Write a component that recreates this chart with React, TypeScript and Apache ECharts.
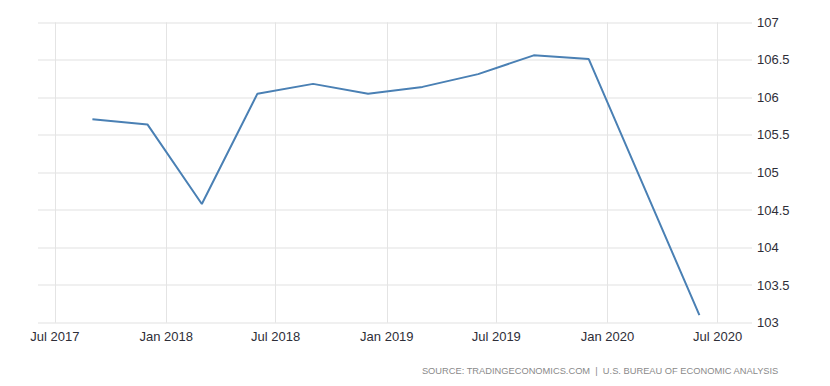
import React, { useEffect, useRef } from "react";
import * as echarts from "echarts";

const dates: string[] = [
  "2017-09-01", "2017-12-01", "2018-03-01", "2018-06-01", "2018-09-01", "2018-12-01",
  "2019-03-01", "2019-06-01", "2019-09-01", "2019-12-01", "2020-06-01",
];
const values: number[] = [105.71, 105.64, 104.58, 106.05, 106.18, 106.05, 106.14, 106.31, 106.56, 106.51, 103.1];
const tickDates: string[] = [
  "2017-07-01", "2018-01-01", "2018-07-01", "2019-01-01", "2019-07-01", "2020-01-01", "2020-07-01",
];
const monthNames: string[] = ["Jan", "Feb", "Mar", "Apr", "May", "Jun", "Jul", "Aug", "Sep", "Oct", "Nov", "Dec"];
const sourceText = "SOURCE: TRADINGECONOMICS.COM  |  U.S. BUREAU OF ECONOMIC ANALYSIS";

const ts = (d: string) => {
  const [y, m, dd] = d.split("-").map(Number);
  return Date.UTC(y, m - 1, dd);
};

export default function App() {
  const ref = useRef<HTMLDivElement>(null);
  useEffect(() => {
    if (!ref.current) return;
    const chart = echarts.init(ref.current, undefined, { renderer: "svg" });
    const tickVals = tickDates.map(ts);
    chart.setOption({
      animation: false,
      grid: { left: 38, right: 78, top: 22.3, bottom: 63.3, containLabel: false },
      xAxis: {
        type: "value",
        min: ts("2017-06-03"),
        max: ts("2020-08-27"),
        axisLine: { show: false },
        axisTick: { show: false, customValues: tickVals },
        splitLine: { show: true, lineStyle: { color: "#e4e4e4", width: 1 } },
        axisLabel: {
          customValues: tickVals,
          margin: 7,
          fontFamily: "Liberation Sans",
          fontSize: 13,
          color: "#2e2e38",
          formatter: (v: number) => {
            const d = new Date(v);
            return monthNames[d.getUTCMonth()] + " " + d.getUTCFullYear();
          },
        },
      },
      yAxis: {
        type: "value",
        position: "right",
        min: 103,
        max: 107,
        interval: 0.5,
        axisLine: { show: false },
        axisTick: { show: false },
        splitLine: { show: true, lineStyle: { color: "#ebebeb", width: 1.5 } },
        axisLabel: {
          margin: 5,
          fontFamily: "Liberation Sans",
          fontSize: 13,
          color: "#2e2e38",
          formatter: (v: number) => String(v),
        },
      },
      series: [
        {
          type: "line",
          data: dates.map((d, i) => [ts(d), values[i]]),
          showSymbol: false,
          symbol: "none",
          lineStyle: { color: "#4a80b4", width: 2 },
        },
      ],
      graphic: [
        {
          type: "text",
          right: 51,
          top: 366,
          style: {
            text: sourceText,
            fill: "#8a8a8a",
            font: "9.3px 'Liberation Sans'",
          },
        },
      ],
    });
    return () => chart.dispose();
  }, []);
  return (
    <div
      ref={ref}
      style={{ position: "absolute", left: 0, top: 0, width: 830, height: 386, background: "#fff" }}
    />
  );
}
